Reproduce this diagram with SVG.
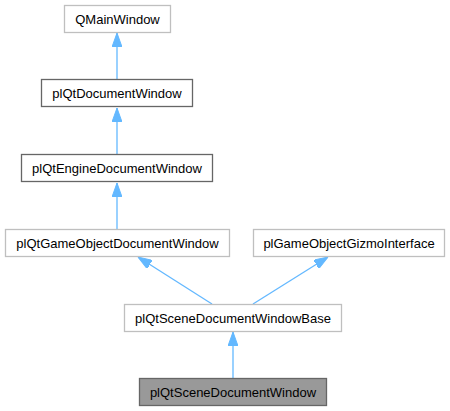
<svg xmlns="http://www.w3.org/2000/svg" width="450" height="411" viewBox="0 0 450 411">
<defs>
<marker id="ah" viewBox="0 0 14 10" refX="14" refY="5" markerWidth="14" markerHeight="10" markerUnits="userSpaceOnUse" orient="auto">
<path d="M0,0 L14,5 L0,10 Z" fill="#63b8ff" stroke="#63b8ff" stroke-width="1"/>
</marker>
<style>
.n rect{fill:#fff;stroke:#bfbfbf;stroke-width:1.3}
.n.d rect{stroke:#666}
.n.c rect{fill:#999;stroke:#666}
.n text{font-family:"Liberation Sans",Arial,sans-serif;font-size:13px;fill:#000;text-anchor:middle}
.e{stroke:#63b8ff;stroke-width:1.3;fill:none;marker-end:url(#ah)}
</style>
</defs>
<rect width="450" height="411" fill="#fff"/>
<g id="edges">
<path class="e" d="M117,79 L117,33"/>
<path class="e" d="M117,154 L117,108"/>
<path class="e" d="M117,229 L117,183"/>
<path class="e" d="M212,304 L138,257"/>
<path class="e" d="M253,304 L328,257"/>
<path class="e" d="M233,378 L233,332"/>
</g>
<g id="QMainWindow" class="n"><rect x="64.5" y="5.5" width="106" height="27"/><text x="117.5" y="23.5">QMainWindow</text></g>
<g id="plQtDocumentWindow" class="n d"><rect x="41.5" y="79.5" width="151" height="27"/><text x="117" y="97.5">plQtDocumentWindow</text></g>
<g id="plQtEngineDocumentWindow" class="n d"><rect x="21.5" y="154.5" width="191" height="27"/><text x="117" y="172.5">plQtEngineDocumentWindow</text></g>
<g id="plQtGameObjectDocumentWindow" class="n"><rect x="5.5" y="229.5" width="224" height="27"/><text x="117.5" y="247.5">plQtGameObjectDocumentWindow</text></g>
<g id="plGameObjectGizmoInterface" class="n"><rect x="253.5" y="229.5" width="191" height="27"/><text x="349" y="247.5">plGameObjectGizmoInterface</text></g>
<g id="plQtSceneDocumentWindowBase" class="n"><rect x="124.5" y="304.5" width="217" height="27"/><text x="233" y="322.5">plQtSceneDocumentWindowBase</text></g>
<g id="plQtSceneDocumentWindow" class="n c"><rect x="139.5" y="378.5" width="187" height="27"/><text x="233" y="396.5">plQtSceneDocumentWindow</text></g>
</svg>
